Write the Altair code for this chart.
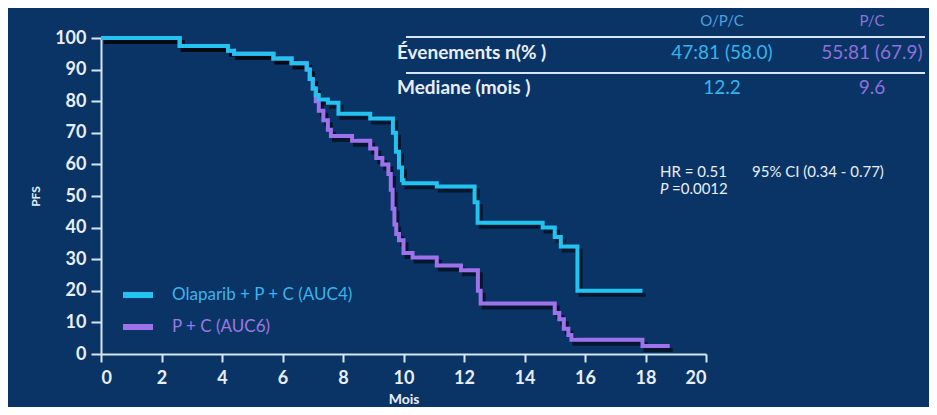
import altair as alt
import pandas as pd

# ---- data ----
series_names = ["Olaparib + P + C (AUC4)", "P + C (AUC6)"]
series_colors = ["#22c3f0", "#9d72ea"]
legend_text_colors = ["#3db3e8", "#9a7ae2"]

months_opc = [0, 2.6, 4.2, 4.4, 5.7, 6.3, 6.8, 6.9, 7.0, 7.1, 7.2, 7.5, 7.85, 8.9,
              9.65, 9.75, 9.85, 9.95, 10.0, 11.1, 12.35, 12.45, 14.6, 15.0, 15.2,
              15.75, 17.9]
pfs_opc = [100, 97.5, 96, 95, 93.5, 92, 90, 87, 84, 82, 80.5, 79.5, 76, 74.5,
           70, 64, 59, 55, 54, 53, 48, 41.5, 40, 37, 34,
           20, 20]

months_pc = [0, 2.6, 4.2, 4.4, 5.7, 6.3, 6.8, 6.9, 7.0, 7.1, 7.2, 7.35, 7.5, 7.6,
             8.3, 8.9, 9.1, 9.3, 9.5, 9.58, 9.64, 9.7, 9.76, 9.85, 10.0, 10.3,
             11.1, 11.9, 12.46, 12.55, 15.0, 15.15, 15.3, 15.45, 15.55, 17.9, 18.8]
pfs_pc = [100, 97.5, 96, 95, 93.5, 92, 90, 87, 84, 80, 77, 74, 71, 69,
          67.5, 65, 62, 60, 57, 52, 46, 41, 38, 36, 32, 30.5,
          28, 26.5, 20, 16, 13, 11, 8, 6, 4.5, 2.5, 2.5]

x_ticks = list(range(0, 21, 2))
y_ticks = list(range(0, 101, 10))

tbl_cols = ["O/P/C", "P/C"]
tbl_col_colors = ["#4d9fdc", "#8a74d6"]
tbl_rows = ["Évenements n(% )", "Mediane (mois )"]
tbl_vals_opc = ["47:81 (58.0)", "12.2"]
tbl_vals_pc = ["55:81 (67.9)", "9.6"]
tbl_val_colors = ["#35b5ea", "#9070da"]

hr_parts = ["HR = 0.51", "95% CI (0.34 - 0.77)"]
p_label = "P"
p_value = "=0.0012"

# ---- tables ----
curves = pd.concat([
    pd.DataFrame({"month": months_opc, "pfs": pfs_opc, "series": series_names[0]}),
    pd.DataFrame({"month": months_pc, "pfs": pfs_pc, "series": series_names[1]}),
], ignore_index=True)

BG = "#0b3466"
AX = "#d6e6f3"
TXT = "#e8eef5"
FONT = "Lato"

x_enc = alt.X("month:Q", scale=alt.Scale(domain=[0, 20], nice=False),
              axis=alt.Axis(values=x_ticks, title="Mois", tickSize=8, labelPadding=7,
                            titleY=45, titleBaseline="middle", titleFontSize=14))
y_enc = alt.Y("pfs:Q", scale=alt.Scale(domain=[0, 100], nice=False),
              axis=alt.Axis(values=y_ticks, title="PFS", tickSize=10,
                            titleX=-66, titleY=158, titleAlign="center",
                            titleBaseline="middle", titleFontSize=12))
col_scale = alt.Scale(domain=series_names, range=series_colors)

base = alt.Chart(curves)

shadow = base.mark_line(interpolate="step-after", color="black", strokeWidth=4,
                        opacity=0.55, xOffset=3, yOffset=4).encode(
    x=x_enc, y=y_enc, detail="series:N")

line_pc = base.transform_filter(alt.datum.series == series_names[1]).mark_line(
    interpolate="step-after", strokeWidth=4).encode(
    x=x_enc, y=y_enc, color=alt.Color("series:N", scale=col_scale, legend=None))

line_opc = base.transform_filter(alt.datum.series == series_names[0]).mark_line(
    interpolate="step-after", strokeWidth=4).encode(
    x=x_enc, y=y_enc, color=alt.Color("series:N", scale=col_scale, legend=None))

# ---- manual legend (layout in pixels) ----
leg = pd.DataFrame({"series": series_names, "tcolor": legend_text_colors,
                    "idx": list(range(len(series_names)))})
leg_base = alt.Chart(leg).transform_calculate(ly="257 + datum.idx * 32")
leg_sym = leg_base.mark_rule(strokeWidth=6).encode(
    x=alt.value(22), x2=alt.value(52),
    y=alt.Y("ly:Q", scale=None),
    color=alt.Color("series:N", scale=col_scale, legend=None))
leg_txt = leg_base.mark_text(align="left", baseline="middle", fontSize=17,
                             font=FONT).encode(
    x=alt.value(71), y=alt.Y("ly:Q", scale=None),
    text="series:N", fill=alt.Fill("tcolor:N", scale=None))

# ---- table (layout in pixels) ----
hdr = pd.DataFrame({"t": tbl_cols, "c": tbl_col_colors, "px": [621, 771]})
hdr_txt = alt.Chart(hdr).mark_text(align="center", baseline="middle", fontSize=15,
                                   font=FONT, y=-17).encode(
    x=alt.X("px:Q", scale=None), text="t:N", fill=alt.Fill("c:N", scale=None))

rows = pd.DataFrame({"t": tbl_rows, "py": [15, 50]})
row_txt = alt.Chart(rows).mark_text(align="left", baseline="middle", fontSize=19,
                                    fontWeight="bold", font=FONT, color=TXT,
                                    x=296).encode(
    y=alt.Y("py:Q", scale=None), text="t:N")

vals = pd.DataFrame({
    "t": tbl_vals_opc + tbl_vals_pc,
    "px": [621] * len(tbl_vals_opc) + [771] * len(tbl_vals_pc),
    "py": [15, 50] * 2,
    "c": [tbl_val_colors[0]] * len(tbl_vals_opc) + [tbl_val_colors[1]] * len(tbl_vals_pc),
})
val_txt = alt.Chart(vals).mark_text(align="center", baseline="middle", fontSize=19,
                                    font=FONT).encode(
    x=alt.X("px:Q", scale=None), y=alt.Y("py:Q", scale=None),
    text="t:N", fill=alt.Fill("c:N", scale=None))

hl = pd.DataFrame({"py": [-1, 35]})
tbl_lines = alt.Chart(hl).mark_rule(color=AX, strokeWidth=2).encode(
    x=alt.value(305), x2=alt.value(824), y=alt.Y("py:Q", scale=None))

hr = pd.DataFrame({"t": hr_parts, "px": [559, 651]})
hr_txt = alt.Chart(hr).mark_text(align="left", baseline="middle", fontSize=15,
                                 font=FONT, color=TXT, y=134).encode(
    x=alt.X("px:Q", scale=None), text="t:N")
p1 = alt.Chart(pd.DataFrame({"t": [p_label]})).mark_text(
    align="left", baseline="middle", fontSize=15, font=FONT, fontStyle="italic",
    color=TXT, x=559, y=151).encode(text="t:N")
p2 = alt.Chart(pd.DataFrame({"t": [p_value]})).mark_text(
    align="left", baseline="middle", fontSize=15, font=FONT,
    color=TXT, x=571, y=151).encode(text="t:N")

chart = alt.layer(
    shadow, line_pc, line_opc, leg_sym, leg_txt, tbl_lines, hdr_txt, row_txt,
    val_txt, hr_txt, p1, p2
).properties(
    width=605, height=316,
    background=BG,
    padding={"left": 93, "top": 30, "right": 223, "bottom": 53},
    autosize=alt.AutoSizeParams(type="none"),
).configure_view(stroke=None).configure_axis(
    grid=False, domainColor=AX, domainWidth=2, tickColor=AX, tickWidth=2,
    labelColor=TXT, labelFont=FONT, labelFontWeight="bold", labelFontSize=18,
    labelPadding=5, titleColor=TXT, titleFont=FONT, titleFontWeight="bold",
)

chart.save("out.html", embed_options={"renderer": "svg", "actions": False})
